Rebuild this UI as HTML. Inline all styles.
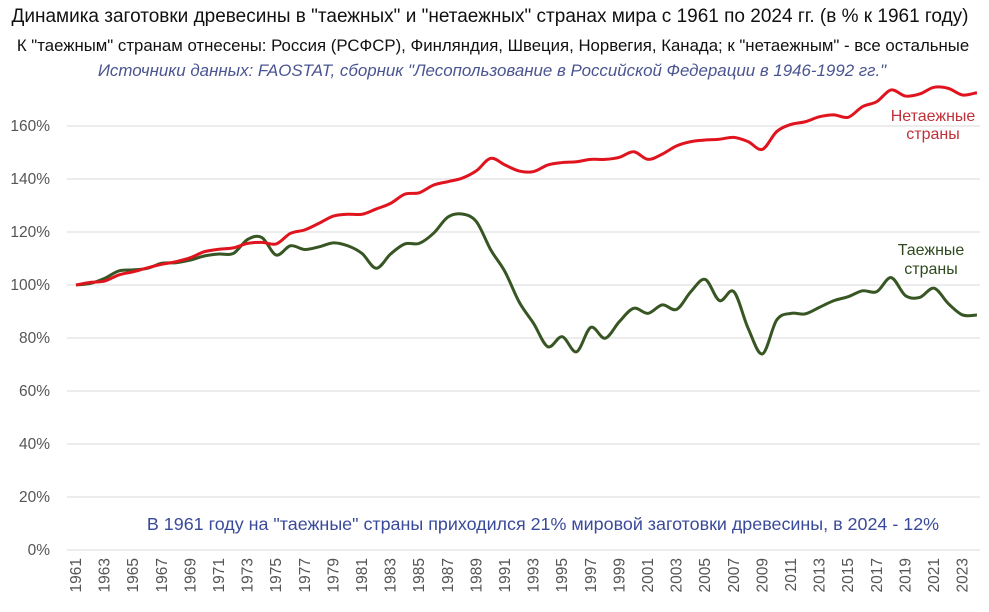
<!DOCTYPE html>
<html><head><meta charset="utf-8">
<style>
body{margin:0;background:#fff;width:989px;height:607px;overflow:hidden;font-family:"Liberation Sans",sans-serif;}
svg text{font-family:"Liberation Sans",sans-serif;}
</style></head>
<body>
<svg id="chart" width="989" height="607" xmlns="http://www.w3.org/2000/svg">
<text x="490" y="22" font-size="19" text-anchor="middle" fill="#111">Динамика заготовки древесины в "таежных" и "нетаежных" странах мира с 1961 по 2024 гг. (в % к 1961 году)</text>
<text x="493" y="51" font-size="16.8" text-anchor="middle" fill="#111">К "таежным" странам отнесены: Россия (РСФСР), Финляндия, Швеция, Норвегия, Канада; к "нетаежным" - все остальные</text>
<text x="492" y="76" font-size="16.9" font-style="italic" text-anchor="middle" fill="#4a5590">Источники данных: FAOSTAT, сборник "Лесопользование в Российской Федерации в 1946-1992 гг."</text>
<g id="grid"></g>
<g id="xlabels"></g>
<text x="543" y="530" font-size="17.9" text-anchor="middle" fill="#3a4a9a">В 1961 году на "таежные" страны приходился 21% мировой заготовки древесины, в 2024 - 12%</text>
<g id="lines"></g>
<text x="933" y="121" font-size="16" text-anchor="middle" fill="#c0303a">Нетаежные</text>
<text x="933" y="139" font-size="16" text-anchor="middle" fill="#c0303a">страны</text>
<text x="931" y="255" font-size="16" text-anchor="middle" fill="#2f4a1e">Таежные</text>
<text x="931" y="274" font-size="16" text-anchor="middle" fill="#2f4a1e">страны</text>
</svg>
<script>
const startYear = 1961;
const yTicks = [0,20,40,60,80,100,120,140,160];
const nonTaiga = [100,101,101.5,103.8,105,106.5,107.8,108.8,110.3,112.6,113.5,114,115.7,116.1,115.5,119.5,120.8,123.3,126,126.7,126.7,128.7,130.8,134.3,134.8,137.7,139,140.3,143.1,147.8,145.3,143,142.8,145.3,146.2,146.5,147.4,147.4,148.2,150.3,147.4,149.4,152.5,154.1,154.7,155,155.7,154.1,151.2,157.9,160.6,161.6,163.5,164.2,163.3,167.3,169.2,173.6,171.3,172.1,174.6,174.2,171.7,172.6];
const taiga = [100,100.6,102.5,105.3,105.7,106.3,108.2,108.4,109.4,111,111.7,111.9,117.2,117.9,111.3,114.8,113.4,114.4,115.9,114.8,111.9,106.3,111.7,115.5,115.7,119.5,125.6,126.8,123.9,113.3,105,93.5,85.5,76.7,80.5,74.8,84,79.9,86.2,91.2,89.3,92.5,90.8,97.5,102.1,94.1,97.5,83.7,74,86.8,89.3,89.1,91.6,94.1,95.6,97.8,97.5,102.8,96,95.3,98.8,93,88.7,88.7];

const NS='http://www.w3.org/2000/svg';
const X0=76, XS=14.3, Y0=550, YS=53/20, PL=67, PR=980;
const xs=i=>X0+XS*i, ys=v=>Y0-v*YS;
const grid=document.getElementById('grid');
yTicks.forEach(t=>{
  const l=document.createElementNS(NS,'line');
  
  
  l.setAttribute('x1',PL);l.setAttribute('x2',PR);l.setAttribute('y1',ys(t));l.setAttribute('y2',ys(t));
  l.setAttribute('stroke','#d9d9d9');l.setAttribute('stroke-width','1');
  grid.appendChild(l);
  const tx=document.createElementNS(NS,'text');
  
  
  tx.setAttribute('x',50);tx.setAttribute('y',ys(t)+5);tx.setAttribute('text-anchor','end');
  tx.setAttribute('font-size','15.5');tx.setAttribute('fill','#555');
  tx.textContent=t+'%';grid.appendChild(tx);
});
const xl=document.getElementById('xlabels');
for(let i=0;i<nonTaiga.length;i+=2){
  const tx=document.createElementNS(NS,'text');
  
  
  const x=xs(i)+5,y=558;
  tx.setAttribute('transform','translate('+x+','+y+') rotate(-90)');
  tx.setAttribute('text-anchor','end');tx.setAttribute('font-size','15.5');tx.setAttribute('fill','#555');
  tx.textContent=startYear+i;xl.appendChild(tx);
}
function smooth(arr){
  const p=arr.map((v,i)=>[xs(i),ys(v)]);
  let d='M'+p[0][0]+','+p[0][1];
  for(let i=0;i<p.length-1;i++){
    const a=p[Math.max(0,i-1)],b=p[i],c=p[i+1],e=p[Math.min(p.length-1,i+2)];
    const c1=[b[0]+(c[0]-a[0])/6,b[1]+(c[1]-a[1])/6],c2=[c[0]-(e[0]-b[0])/6,c[1]-(e[1]-b[1])/6];
    d+=' C'+c1+' '+c2+' '+c;
  }
  return d;
}
const lines=document.getElementById('lines');
const g=document.createElementNS(NS,'path');


g.setAttribute('d',smooth(taiga));g.setAttribute('fill','none');g.setAttribute('stroke','#375623');g.setAttribute('stroke-width','3');
lines.appendChild(g);
const r=document.createElementNS(NS,'path');


r.setAttribute('d',smooth(nonTaiga));r.setAttribute('fill','none');r.setAttribute('stroke','#e0141e');r.setAttribute('stroke-width','3');
lines.appendChild(r);
</script>
</body></html>
